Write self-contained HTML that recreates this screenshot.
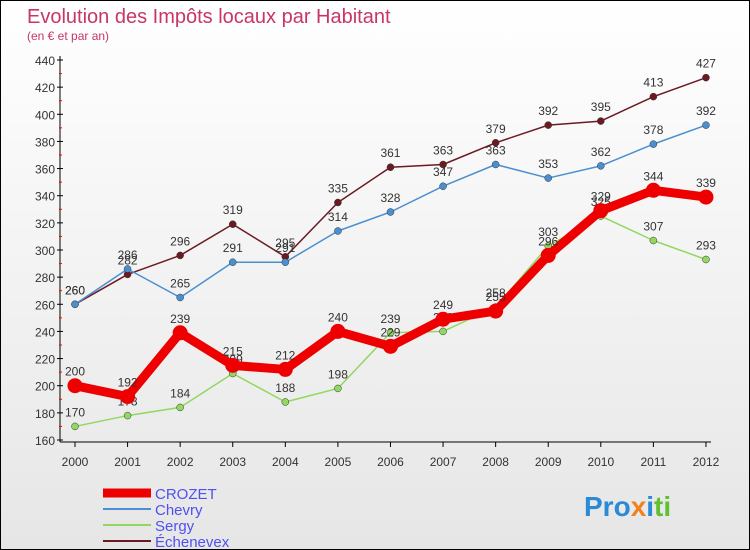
<!DOCTYPE html>
<html><head><meta charset="utf-8"><style>
body{margin:0}
#c{width:748px;height:548px;border:1px solid #000;background:linear-gradient(#fff,#e6e6e6);position:relative;font-family:"Liberation Sans",sans-serif;overflow:hidden}
</style></head><body>
<div id="c">
<svg id="s" width="748" height="548">
<text x="26" y="22" font-size="20" fill="#c8356a">Evolution des Impôts locaux par Habitant</text>
<text x="26" y="39" font-size="12" fill="#c8356a">(en € et par an)</text>
<g id="axes"></g><g id="series"></g><g id="legend"></g>
<text x="583" y="515" font-size="28" font-weight="bold"><tspan fill="#2a8ad8">Pro</tspan><tspan fill="#f08020">x</tspan><tspan fill="#2a8ad8">i</tspan><tspan fill="#60c030">ti</tspan></text>
</svg></div>
<script>
const years=[2000,2001,2002,2003,2004,2005,2006,2007,2008,2009,2010,2011,2012];
const yTicks=[160,180,200,220,240,260,280,300,320,340,360,380,400,420,440];
const crozet=[200,192,239,215,212,240,229,249,255,296,329,344,339];
const chevry=[260,286,265,291,291,314,328,347,363,353,362,378,392];
const sergy=[170,178,184,209,188,198,239,240,258,303,325,307,293];
const echenevex=[260,282,296,319,295,335,361,363,379,392,395,413,427];
const NS="http://www.w3.org/2000/svg";
function X(i){return 74+i*52.58;}
function Y(v){return 59+(440-v)/280*380;}
function mk(t,a,p){const e=document.createElementNS(NS,t);for(const k in a)e.setAttribute(k,a[k]);p.appendChild(e);return e;}
const ax=document.getElementById('axes');
const yl=mk('line',{x1:59,y1:55,x2:59,y2:441,stroke:'#000'},ax);

const xl=mk('line',{x1:59,y1:441,x2:710,y2:441,stroke:'#000'},ax);

yTicks.forEach(v=>{
 mk('line',{x1:56,y1:Y(v),x2:62,y2:Y(v),stroke:'#000'},ax);
 if(v<440)mk('line',{x1:58,y1:Y(v+10),x2:61,y2:Y(v+10),stroke:'#f00'},ax);
 const t=mk('text',{x:54,y:Y(v)+5,'font-size':12,fill:'#333','text-anchor':'end'},ax);t.textContent=v;
 
});
years.forEach((y,i)=>{
 mk('line',{x1:X(i),y1:441,x2:X(i),y2:446,stroke:'#000'},ax);
 const t=mk('text',{x:X(i),y:465,'font-size':12,fill:'#333','text-anchor':'middle'},ax);t.textContent=y;
 
});
const sg=document.getElementById('series');
const defs=[
 {d:echenevex,c:'#6b1a22',w:1.5,r:3.5,n:'echenevex'},
 {d:chevry,c:'#4a90d0',w:1.5,r:3.5,n:'chevry'},
 {d:sergy,c:'#90d860',w:1.5,r:3.5,n:'sergy'},
 {d:crozet,c:'#ee0000',w:9,r:7.5,n:'crozet'}];
defs.forEach(s=>{
 const g=mk('g',{},sg);
 const l=mk('polyline',{points:s.d.map((v,i)=>X(i)+','+Y(v)).join(' '),fill:'none',stroke:s.c,'stroke-width':s.w,'stroke-linejoin':'round'},g);
 
 s.d.forEach((v,i)=>{
  const p=mk('circle',{cx:X(i),cy:Y(v),r:s.r,fill:s.c,stroke:s.w>2?'none':'#333','stroke-width':0.5},g);
  
  const t=mk('text',{x:X(i),y:Y(v)-10,'font-size':12,fill:'#333','text-anchor':'middle'},g);t.textContent=v;
  
 });
});
const lg=document.getElementById('legend');
[['CROZET','#ee0000',9],['Chevry','#4a90d0',2],['Sergy','#90d860',2],['Échenevex','#6b1a22',2]].forEach((e,i)=>{
 const y=492+i*16;
 const l=mk('line',{x1:102,y1:y,x2:150,y2:y,stroke:e[1],'stroke-width':e[2]},lg);
 
 const t=mk('text',{x:154,y:y+6,'font-size':15,fill:'#5050f0'},lg);t.textContent=e[0];
 
});
</script>
</body></html>
